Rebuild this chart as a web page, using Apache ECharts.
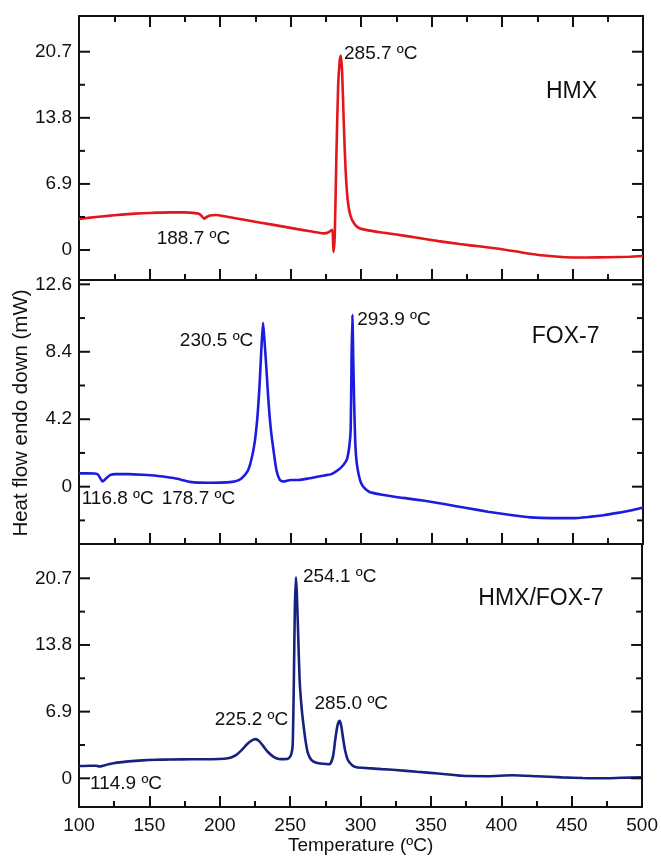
<!DOCTYPE html>
<html>
<head>
<meta charset="utf-8">
<script src="https://cdn.jsdelivr.net/npm/echarts@6/dist/echarts.min.js"></script>
<style>
  html, body { margin: 0; padding: 0; background: #fff; }
  #chart { width: 661px; height: 861px; }
</style>
</head>
<body>
<div id="chart"></div>
<script>
// DSC traces: heat flow (mW, endo down) against temperature (ºC)

// HMX
const hmxTemp = [100, 108, 116, 125, 135, 145, 155, 165, 175, 181,
  185, 187, 188.7, 190.5, 193, 197, 205, 215, 225, 235,
  245, 255, 263, 270, 274, 277, 279.6, 280.5, 281.4, 282.5,
  283.8, 285, 285.7, 286.6, 287.8, 289, 290.5, 292.3, 295, 298.5,
  305, 315, 325, 340, 355, 370, 385, 400, 415, 430,
  445, 460, 475, 490, 500];
const hmxHeat = [3.24, 3.38, 3.5, 3.63, 3.75, 3.84, 3.9, 3.93, 3.93, 3.88,
  3.78, 3.55, 3.28, 3.45, 3.6, 3.66, 3.47, 3.22, 2.96, 2.7,
  2.44, 2.18, 1.98, 1.8, 1.74, 1.85, 2.12, -0.2, 1.6, 9.5,
  17.2, 19.9, 20.3, 18.6, 13.2, 8.6, 5.3, 3.7, 2.8, 2.3,
  2.05, 1.82, 1.62, 1.28, 0.93, 0.62, 0.36, 0.08, -0.28, -0.58,
  -0.76, -0.78, -0.75, -0.7, -0.62];
const hmxPeaks = [188.7, 285.7];

// FOX-7
const foxTemp = [100, 106, 111, 113.5, 116.8, 119, 122, 126, 135, 145,
  155, 162, 168, 173, 178.7, 185, 195, 205, 211, 215,
  219.5, 222, 224.5, 226.5, 228.1, 229.3, 230.5, 231.3, 232.8, 234,
  235.2, 236.4, 237.6, 240, 242.4, 245, 250, 256, 262, 268,
  274, 279, 284, 287.5, 290, 291.7, 292.7, 293.3, 293.9, 294.5,
  295.2, 296, 297, 298.5, 300, 302, 306, 315, 330, 345,
  360, 375, 390, 405, 420, 435, 450, 462, 472, 482,
  491, 500];
const foxHeat = [0.83, 0.83, 0.82, 0.75, 0.32, 0.5, 0.72, 0.78, 0.78, 0.74,
  0.68, 0.6, 0.52, 0.42, 0.3, 0.25, 0.24, 0.27, 0.34, 0.5,
  0.95, 1.6, 2.7, 4.3, 6.4, 8.5, 10.2, 9.4, 7.5, 5.8,
  4.36, 3.3, 2.49, 1.04, 0.42, 0.32, 0.42, 0.42, 0.5, 0.6,
  0.7, 0.78, 1.05, 1.35, 1.7, 2.5, 3.6, 8.0, 10.7, 8.0,
  5.0, 2.6, 1.45, 0.7, 0.25, -0.05, -0.33, -0.5, -0.7, -0.88,
  -1.1, -1.33, -1.56, -1.75, -1.91, -1.96, -1.96, -1.88, -1.78, -1.63,
  -1.48, -1.29];
const foxPeaks = [116.8, 178.7, 230.5, 293.9];

// HMX/FOX-7 mixture
const mixTemp = [100, 108, 112, 114.9, 117, 121, 127, 135, 145, 155,
  165, 180, 195, 203, 208, 212, 216, 219.5, 222.5, 225.2,
  228, 231, 234, 238, 242, 246, 249, 250.8, 251.8, 252.6,
  253.3, 254.1, 254.7, 255.5, 256.7, 258, 259.3, 261, 262.6, 265,
  268.5, 273, 278, 280.4, 282, 283.5, 285, 286.2, 287.4, 289,
  291, 294, 297, 305, 315, 325, 340, 355, 372, 390,
  408, 425, 443, 458, 470, 485, 500];
const mixHeat = [1.27, 1.3, 1.3, 1.22, 1.3, 1.45, 1.62, 1.75, 1.86, 1.92,
  1.95, 1.97, 1.97, 2.02, 2.15, 2.45, 3.0, 3.55, 3.9, 4.05,
  3.85, 3.3, 2.75, 2.25, 2.0, 1.98, 2.08, 2.5, 3.5, 10.0,
  17.5, 20.8, 19.2, 15.7, 10.2, 7.5, 5.7, 3.8, 2.6, 1.9,
  1.62, 1.5, 1.45, 2.24, 4.0, 5.4, 5.95, 5.5, 4.3, 2.9,
  1.89, 1.35, 1.14, 1.05, 0.95, 0.86, 0.68, 0.5, 0.26, 0.22,
  0.32, 0.22, 0.1, 0.03, 0.0, 0.05, 0.1];
const mixPeaks = [114.9, 225.2, 254.1, 285.0];

// Axis ticks
const tempTicks = [100, 150, 200, 250, 300, 350, 400, 450, 500];
const hmxMajorTicks = [0, 6.9, 13.8, 20.7];
const hmxMinorTicks = [3.45, 10.35, 17.25];
const foxMajorTicks = [0, 4.2, 8.4, 12.6];
const foxMinorTicks = [-2.1, 2.1, 6.3, 10.5];

const sampleNames = ['HMX', 'FOX-7', 'HMX/FOX-7'];

const FONT = "'Liberation Sans', Arial, sans-serif";
const INK = '#111';
const MAJOR_LEN = 11, MINOR_LEN = 6;

const panels = [
  { temp: hmxTemp, heat: hmxHeat, peaks: hmxPeaks, major: hmxMajorTicks, minor: hmxMinorTicks,
    color: '#e3161b', top: 16, height: 264, min: -3.13, max: 24.43,
    labels: [ { align: 'left', offset: [-47.4, 20.1] }, { align: 'left', offset: [3.2, -2.2] } ],
    name: { x: 546, y: 92 } },
  { temp: foxTemp, heat: foxHeat, peaks: foxPeaks, major: foxMajorTicks, minor: foxMinorTicks,
    color: '#1c1cde', top: 280, height: 264, min: -3.57, max: 12.87,
    labels: [ { align: 'left', offset: [-21, 17.7] }, { align: 'left', offset: [-28.3, 17.4] },
              { align: 'right', offset: [-9.7, 17.8] }, { align: 'left', offset: [4.9, 4.5] } ],
    name: { x: 531.7, y: 336.7 } },
  { temp: mixTemp, heat: mixHeat, peaks: mixPeaks, major: hmxMajorTicks, minor: hmxMinorTicks,
    color: '#16227e', top: 544, height: 263, min: -2.97, max: 24.25,
    labels: [ { align: 'left', offset: [-10, 17.5] }, { align: 'left', offset: [-40.5, -19.9] },
              { align: 'left', offset: [7, -0.6] }, { align: 'left', offset: [-24.9, -16.8] } ],
    name: { x: 478.3, y: 598.3 } }
];

const lineStyle = { color: INK, width: 2 };

const grids = [], xAxes = [], yAxes = [], series = [], graphics = [];

// Inward y ticks on both frame edges, placed through the panel's own scales
function renderYTicks(params, api) {
  const v = api.value(1);
  const len = api.value(2) ? MAJOR_LEN : MINOR_LEN;
  const pl = api.coord([tempTicks[0], v]);
  const pr = api.coord([tempTicks[tempTicks.length - 1], v]);
  const style = { stroke: INK, lineWidth: 2 };
  return {
    type: 'group',
    children: [
      { type: 'line', shape: { x1: pl[0], y1: pl[1], x2: pl[0] + len, y2: pl[1] }, style },
      { type: 'line', shape: { x1: pr[0], y1: pr[1], x2: pr[0] - len, y2: pr[1] }, style }
    ]
  };
}

panels.forEach((p, g) => {
  grids.push({ left: 79, right: 18, top: p.top, height: p.height });

  const last = g === panels.length - 1;
  // bottom temperature axis
  xAxes.push({
    type: 'value', gridIndex: g, position: 'bottom', min: 100, max: 500, interval: 50,
    axisLine: { show: true, onZero: false, lineStyle },
    axisTick: { show: true, inside: true, length: MAJOR_LEN, lineStyle },
    minorTick: { show: true, splitNumber: 2, length: MINOR_LEN, lineStyle },
    axisLabel: { show: last, customValues: tempTicks, margin: 9, fontSize: 19, color: INK, fontFamily: FONT },
    splitLine: { show: false }, minorSplitLine: { show: false },
    name: last ? 'Temperature (ºC)' : '', nameLocation: 'middle', nameGap: 27,
    nameTextStyle: { fontSize: 19, color: INK, fontFamily: FONT }
  });
  // top frame edge
  xAxes.push({
    type: 'value', gridIndex: g, position: 'top', min: 100, max: 500, interval: 50,
    axisLine: { show: true, onZero: false, lineStyle },
    axisTick: { show: g === 0, inside: true, length: MAJOR_LEN, lineStyle },
    minorTick: { show: g === 0, splitNumber: 2, length: MINOR_LEN, lineStyle },
    axisLabel: { show: false }, splitLine: { show: false }, minorSplitLine: { show: false }
  });

  // left axis with labels, right frame edge
  yAxes.push({
    type: 'value', gridIndex: g, position: 'left', min: p.min, max: p.max,
    axisLine: { show: true, onZero: false, lineStyle },
    axisTick: { show: false },
    axisLabel: { show: true, customValues: p.major, margin: 7, fontSize: 19, color: INK, fontFamily: FONT },
    splitLine: { show: false }
  });
  yAxes.push({
    type: 'value', gridIndex: g, position: 'right', min: p.min, max: p.max,
    axisLine: { show: true, onZero: false, lineStyle },
    axisTick: { show: false }, axisLabel: { show: false }, splitLine: { show: false }
  });

  const data = p.temp.map((t, i) => [t, p.heat[i]]);
  const marks = p.peaks.map((t, k) => {
    const v = p.heat[p.temp.indexOf(t)];
    return {
      coord: [t, v],
      label: {
        formatter: t.toFixed(1) + ' ºC',
        align: p.labels[k].align,
        verticalAlign: 'middle',
        offset: p.labels[k].offset
      }
    };
  });

  series.push({
    type: 'line', xAxisIndex: 2 * g, yAxisIndex: 2 * g,
    data, showSymbol: false, smooth: 0.2,
    lineStyle: { color: p.color, width: 2.6 },
    itemStyle: { color: p.color },
    emphasis: { disabled: true },
    markPoint: {
      symbol: 'circle', symbolSize: 1,
      itemStyle: { color: 'rgba(0,0,0,0)' },
      label: { show: true, position: 'inside', fontSize: 19, color: INK, fontFamily: FONT },
      data: marks
    }
  });

  const tickData = p.major.map(v => [tempTicks[0], v, 1]).concat(p.minor.map(v => [tempTicks[0], v, 0]));
  series.push({
    type: 'custom', xAxisIndex: 2 * g, yAxisIndex: 2 * g,
    data: tickData, renderItem: renderYTicks, clip: false, silent: true, z: 5,
    encode: { x: 0, y: 1 }
  });

  graphics.push({
    type: 'text', x: p.name.x, y: p.name.y,
    style: { text: sampleNames[g], font: '23px ' + FONT, fill: INK, textAlign: 'left', textVerticalAlign: 'middle' }
  });
});

graphics.push({
  type: 'text', x: 21, y: 413, rotation: Math.PI / 2,
  style: { text: 'Heat flow endo down (mW)', font: '20.5px ' + FONT, fill: INK, textAlign: 'center', textVerticalAlign: 'middle' }
});

const chart = echarts.init(document.getElementById('chart'), null, { renderer: 'canvas' });
chart.setOption({
  animation: false,
  backgroundColor: '#fff',
  grid: grids,
  xAxis: xAxes,
  yAxis: yAxes,
  series,
  graphic: graphics
});
</script>
</body>
</html>
